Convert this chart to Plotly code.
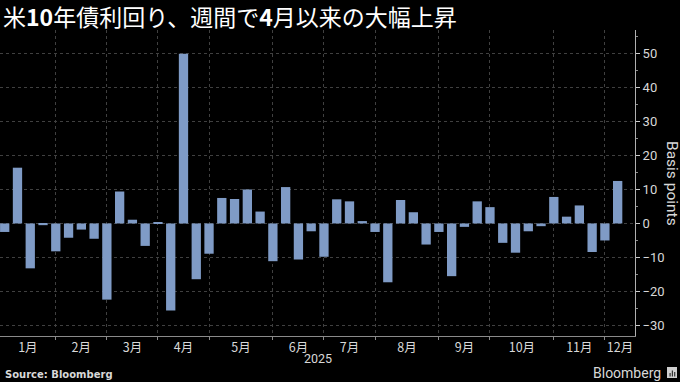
import pandas as pd
import plotly.graph_objects as go

# ---- data -------------------------------------------------------------
first_week = "2025-01-03"
last_week = "2025-12-05"
week_ending = pd.date_range(first_week, last_week, freq="W-FRI")

change_bp = [
    -2.5, 16.4, -13.2, -0.5, -8.2,          # Jan
    -4.2, -1.8, -4.5, -22.4,                # Feb
    9.4, 1.1, -6.6, 0.4,                    # Mar
    -25.6, 49.9, -16.4, -8.9,               # Apr
    7.5, 7.2, 10.0, 3.5, -11.1,             # May
    10.7, -10.6, -2.3, -9.8,                # Jun
    7.1, 6.5, 0.7, -2.5,                    # Jul
    -17.3, 6.9, 3.3, -6.2, -2.5,            # Aug
    -15.5, -1.0, 6.5, 4.8,                  # Sep
    -5.7, -8.6, -2.3, -0.8, 7.8,            # Oct
    2.0, 5.3, -8.4, -5.0,                   # Nov
    12.5,                                   # Dec
]

month_labels = ["1月", "2月", "3月", "4月", "5月", "6月",
                "7月", "8月", "9月", "10月", "11月", "12月"]
month_boundaries = ["2025-01-31", "2025-02-28", "2025-03-28", "2025-04-25",
                    "2025-05-30", "2025-06-27", "2025-07-25", "2025-08-29",
                    "2025-09-26", "2025-10-31", "2025-11-28"]
y_ticks = [-30, -20, -10, 0, 10, 20, 30, 40, 50]

title_text = "米<b>10</b>年債利回り、週間で<b>4</b>月以来の大幅上昇"
y_title = "Basis points"
year_label = "2025"
source_text = "Source: Bloomberg"
logo_text = "Bloomberg"

# ---- layout helpers ---------------------------------------------------
x_start = pd.Timestamp("2024-12-31 10:00")
x_end = pd.Timestamp("2025-12-14 12:00")
edges = [x_start] + [pd.Timestamp(d) for d in month_boundaries] + [x_end]
label_pos = [edges[i] + (edges[i + 1] - edges[i]) / 2 for i in range(len(edges) - 1)]

W, H = 680, 382
ML, MR, MT, MB = 0, 45, 30, 46
PW, PH = W - ML - MR, H - MT - MB


def px_x(px):
    return (px - ML) / PW


def px_y(py):
    return (H - MB - py) / PH


CJK = "Noto Sans CJK JP"
TXT = "#d8d8d8"
GRID = "#404040"

fig = go.Figure()
fig.add_trace(go.Bar(
    x=week_ending,
    y=change_bp,
    marker=dict(color="#7f9bc6", line=dict(width=0)),
    width=5.1 * 86400000,
    hoverinfo="x+y",
))

fig.update_layout(
    width=W, height=H,
    margin=dict(l=ML, r=MR, t=MT, b=MB),
    paper_bgcolor="black",
    plot_bgcolor="black",
    showlegend=False,
    font=dict(family=CJK, color=TXT, size=12),
    xaxis=dict(
        type="date",
        range=[x_start, x_end],
        tickmode="array",
        tickvals=label_pos,
        ticktext=month_labels,
        ticks="",
        showgrid=False,
        zeroline=False,
        showline=True,
        linecolor="#8a8a8a",
        linewidth=1,
        tickfont=dict(family=CJK, size=12.5, color=TXT),
        minor=dict(
            tickmode="array",
            tickvals=month_boundaries,
            ticks="outside",
            ticklen=3,
            tickcolor="#8a8a8a",
            showgrid=True,
            gridcolor=GRID,
            griddash="dot",
            gridwidth=1,
        ),
    ),
    yaxis=dict(
        side="right",
        range=[-33.1, 56.9],
        tickmode="array",
        tickvals=y_ticks,
        ticks="outside",
        ticklen=4,
        tickcolor="#cccccc",
        showline=True,
        linecolor="#b0b0b0",
        linewidth=1,
        showgrid=True,
        gridcolor=GRID,
        griddash="dot",
        zeroline=False,
        tickfont=dict(family="Roboto", size=13, color=TXT),
        minor=dict(dtick=5, tick0=0, ticks="outside", ticklen=2,
                   tickcolor="#8a8a8a", showgrid=False),
    ),
)

annotations = [
    dict(text=title_text, xref="paper", yref="paper", x=px_x(1), y=px_y(16),
         xanchor="left", yanchor="middle", showarrow=False,
         font=dict(family=CJK, size=23, color="white")),
    dict(text=y_title, xref="paper", yref="paper", x=px_x(672), y=0.5,
         xanchor="center", yanchor="middle", textangle=90, showarrow=False,
         font=dict(family="Roboto", size=15.5, color=TXT)),
    dict(text=year_label, xref="paper", yref="paper", x=0.5, y=px_y(358),
         xanchor="center", yanchor="middle", showarrow=False,
         font=dict(family="Roboto", size=12.5, color=TXT)),
    dict(text="<b>" + source_text + "</b>", xref="paper", yref="paper",
         x=px_x(3), y=px_y(374), xanchor="left", yanchor="middle",
         showarrow=False, font=dict(family="DejaVu Sans", size=10, color=TXT)),
    dict(text=logo_text, xref="paper", yref="paper",
         x=px_x(663), y=px_y(373), xanchor="right", yanchor="middle",
         showarrow=False, font=dict(family="Roboto", size=14, color=TXT)),
]
fig.update_layout(annotations=annotations)

# small logo glyph
fig.add_shape(type="rect", xref="paper", yref="paper",
              x0=px_x(667), x1=px_x(677), y0=px_y(378), y1=px_y(367),
              fillcolor="#cfcfcf", line=dict(width=0))
for bx, top in [(669.5, 373), (671.8, 370.5), (674.1, 372)]:
    fig.add_shape(type="rect", xref="paper", yref="paper",
                  x0=px_x(bx), x1=px_x(bx + 1.2), y0=px_y(376.5), y1=px_y(top),
                  fillcolor="#333333", line=dict(width=0))

fig.write_html(
    "out.html",
    config={"displayModeBar": False},
    post_script="document.body.style.margin='0';document.body.style.background='black';",
)
